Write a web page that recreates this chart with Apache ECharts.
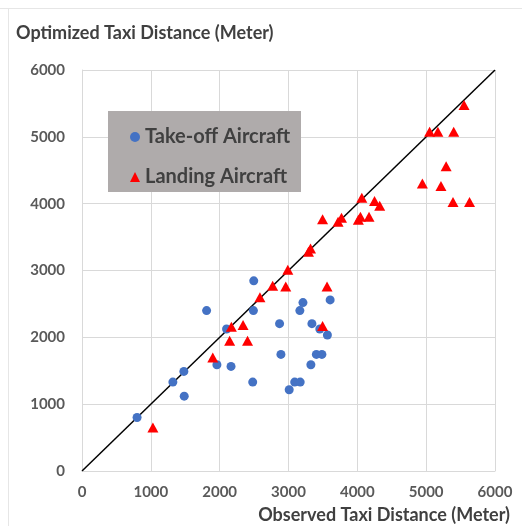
<!DOCTYPE html>
<html>
<head>
<meta charset="utf-8">
<script src="https://cdn.jsdelivr.net/npm/echarts@6/dist/echarts.min.js"></script>
<style>
  html, body { margin: 0; padding: 0; background: #fff; }
  #chart { width: 522px; height: 526px; }
</style>
</head>
<body>
<div id="chart"></div>
<script>
// Observed vs optimized taxi distances (meters)
const takeoffObserved = [800, 1320, 1480, 1485, 1810, 1960, 2100, 2165, 2480, 2490, 2495, 2870, 2890, 3010, 3090, 3170, 3165, 3210, 3340, 3405, 3455, 3485, 3325, 3565, 3605];
const takeoffOptimized = [800, 1330, 1490, 1120, 2400, 1590, 2125, 1565, 1330, 2400, 2845, 2205, 1745, 1215, 1330, 1330, 2400, 2520, 2205, 1745, 2125, 1745, 1590, 2035, 2560];

const landingObserved = [1030, 1900, 2145, 2170, 2340, 2405, 2585, 2770, 2960, 2990, 3290, 3320, 3495, 3560, 3495, 3720, 3770, 4015, 4045, 4065, 4170, 4250, 4325, 4945, 5050, 5170, 5215, 5290, 5390, 5400, 5550, 5630];
const landingOptimized = [650, 1700, 1950, 2160, 2185, 1950, 2600, 2770, 2760, 3010, 3280, 3330, 3765, 2760, 2170, 3730, 3790, 3760, 3805, 4090, 3805, 4040, 3970, 4300, 5075, 5075, 4265, 4560, 4025, 5075, 5475, 4025];

const axisTicks = [0, 1000, 2000, 3000, 4000, 5000, 6000];
const equalityLine = [[0, 0], [6000, 6000]];

const FONT = 'Lato';
const pairs = (xs, ys) => xs.map((x, i) => [x, ys[i]]);
const plain = v => String(v);

const chart = echarts.init(document.getElementById('chart'));
chart.setOption({
  backgroundColor: '#ffffff',
  animation: false,
  grid: { left: 82, right: 27, top: 70, bottom: 55 },
  xAxis: {
    type: 'value',
    min: axisTicks[0], max: axisTicks[axisTicks.length - 1], interval: 1000,
    axisLine: { show: true, lineStyle: { color: '#d9d9d9', width: 1 } },
    axisTick: { show: false },
    splitLine: { show: true, lineStyle: { color: '#d9d9d9', width: 1 } },
    axisLabel: { formatter: plain, color: '#595959', fontFamily: FONT, fontWeight: 'bold', fontSize: 15, margin: 14 }
  },
  yAxis: {
    type: 'value',
    min: axisTicks[0], max: axisTicks[axisTicks.length - 1], interval: 1000,
    axisLine: { show: true, lineStyle: { color: '#d9d9d9', width: 1 } },
    axisTick: { show: false },
    splitLine: { show: true, lineStyle: { color: '#d9d9d9', width: 1 } },
    axisLabel: { formatter: plain, color: '#595959', fontFamily: FONT, fontWeight: 'bold', fontSize: 15, margin: 17 }
  },
  legend: {
    left: 125, top: 122,
    orient: 'vertical',
    itemWidth: 10, itemHeight: 10, itemGap: 20,
    z: 10,
    data: [
      { name: 'Take-off Aircraft', icon: 'circle', itemStyle: { color: '#4472c4' } },
      { name: 'Landing Aircraft', icon: 'triangle', itemStyle: { color: '#ff0000' } }
    ],
    textStyle: { color: '#404040', fontFamily: FONT, fontWeight: 'bold', fontSize: 20, lineHeight: 20 }
  },
  graphic: [
    { type: 'line', shape: { x1: 0, y1: 8.5, x2: 522, y2: 8.5 }, style: { stroke: '#e6e6e6', lineWidth: 1 }, silent: true },
    { type: 'line', shape: { x1: 8.5, y1: 8, x2: 8.5, y2: 526 }, style: { stroke: '#e6e6e6', lineWidth: 1 }, silent: true },
    { type: 'rect', shape: { x: 108, y: 111, width: 193, height: 81 }, style: { fill: '#afabab' }, z: 5, silent: true },
    { type: 'text', left: 16, top: 24, style: { text: 'Optimized Taxi Distance (Meter)', fill: '#404040', font: 'bold 18px ' + FONT } },
    { type: 'text', right: 12, top: 506, style: { text: 'Observed Taxi Distance (Meter)', fill: '#404040', font: 'bold 18px ' + FONT } }
  ],
  series: [
    {
      name: 'Equality',
      type: 'line',
      data: equalityLine,
      symbol: 'none',
      lineStyle: { color: '#000000', width: 1.5 },
      z: 2,
      silent: true
    },
    {
      name: 'Take-off Aircraft',
      type: 'scatter',
      data: pairs(takeoffObserved, takeoffOptimized),
      symbol: 'circle',
      symbolSize: 9,
      itemStyle: { color: '#4472c4', opacity: 1 },
      z: 3
    },
    {
      name: 'Landing Aircraft',
      type: 'scatter',
      data: pairs(landingObserved, landingOptimized),
      symbol: 'triangle',
      symbolSize: [11, 10],
      itemStyle: { color: '#ff0000', opacity: 1 },
      z: 4
    }
  ]
});
</script>
</body>
</html>
